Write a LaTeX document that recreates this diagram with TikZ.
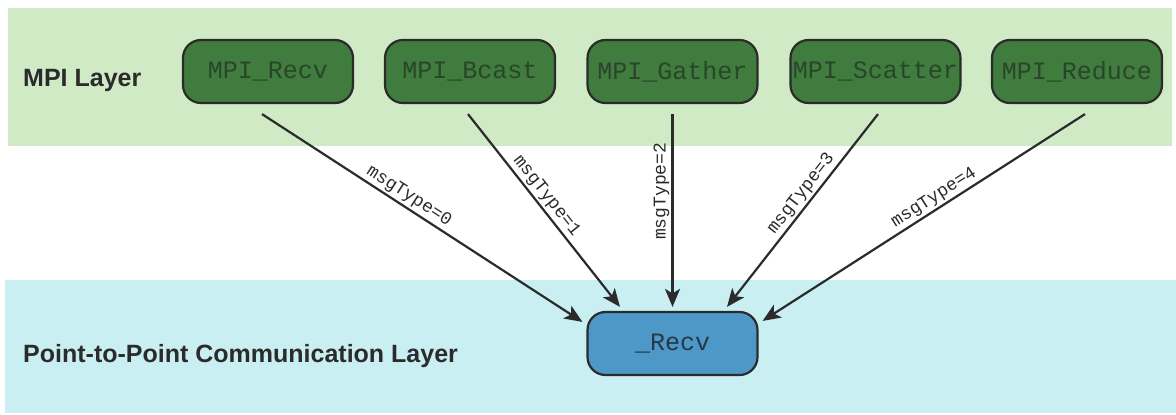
\documentclass[tikz,border=0pt]{standalone}
\usepackage{fontspec}
\setmainfont{Liberation Sans}
\setmonofont{Liberation Mono}
\usetikzlibrary{arrows.meta}

\definecolor{mpiband}{HTML}{D0EAC6}
\definecolor{ptpband}{HTML}{CAEFF3}
\definecolor{mpifill}{HTML}{3F7C3D}
\definecolor{mpitext}{HTML}{2A452A}
\definecolor{ptpfill}{HTML}{4E98C8}
\definecolor{ptptext}{HTML}{253845}
\definecolor{ink}{HTML}{2B2B2B}

\tikzset{
  layerlabel/.style={font=\bfseries\fontsize{25}{29}\selectfont, text=ink, inner sep=0pt},
  callbox/.style={draw=ink, line width=2.2pt, rounded corners=18pt,
    minimum width=170pt, minimum height=63pt, inner sep=1pt,
    font=\ttfamily\fontsize{25}{28}\selectfont},
  mpibox/.style={callbox, fill=mpifill, text=mpitext},
  ptpbox/.style={callbox, fill=ptpfill, text=ptptext},
  msgarrow/.style={draw=ink, line width=2.2pt,
    -{Stealth[length=18pt, width=15pt, inset=4.5pt]}},
  msglabel/.style={font=\ttfamily\fontsize{18}{20}\selectfont, text=ink, inner sep=2pt}
}

\begin{document}
\begin{tikzpicture}[x=1pt, y=-1pt]
\useasboundingbox (0,0) rectangle (1176,415);

% layer bands
\fill[mpiband] (8,8) rectangle (1172,146);
\fill[ptpband] (5,280) rectangle (1176,413);

% layer captions
\node[layerlabel, anchor=base west] (mpilayer) at (23,86) {MPI Layer};
\node[layerlabel, anchor=base west] (ptplayer) at (23,362) {Point-to-Point Communication Layer};

% MPI calls
\node[mpibox] (mrecv)    at (268,71.5)   {MPI\_Recv};
\node[mpibox] (mbcast)   at (470,71.5)   {MPI\_Bcast};
\node[mpibox] (mgather)  at (672.5,71.5) {MPI\_Gather};
\node[mpibox] (mscatter) at (875.5,71.5) {MPI\_Scatter};
\node[mpibox] (mreduce)  at (1077,71.5)  {MPI\_Reduce};

% point-to-point receive
\node[ptpbox] (precv) at (672.5,343.5) {\_Recv};

% message routing
\draw[msgarrow] ([shift={(-6pt,-10pt)}]mrecv.south) -- ([shift={(-4pt,-11pt)}]precv.north west)
  node[msglabel, sloped, above, pos=0.44] {msgType=0};
\draw[msgarrow] ([shift={(-2pt,-10pt)}]mbcast.south) -- ([shift={(-52.5pt,4pt)}]precv.north)
  node[msglabel, sloped, above, pos=0.46] {msgType=1};
\draw[msgarrow] ([shift={(0pt,-10pt)}]mgather.south) -- ([shift={(0pt,4pt)}]precv.north)
  node[msglabel, rotate=90, anchor=south, pos=0.4] {msgType=2};
\draw[msgarrow] ([shift={(2.5pt,-10pt)}]mscatter.south) -- ([shift={(54.5pt,4pt)}]precv.north)
  node[msglabel, sloped, above, pos=0.45] {msgType=3};
\draw[msgarrow] ([shift={(8pt,-10pt)}]mreduce.south) -- ([shift={(4pt,-10pt)}]precv.north east)
  node[msglabel, sloped, above, pos=0.45] {msgType=4};
\end{tikzpicture}
\end{document}
